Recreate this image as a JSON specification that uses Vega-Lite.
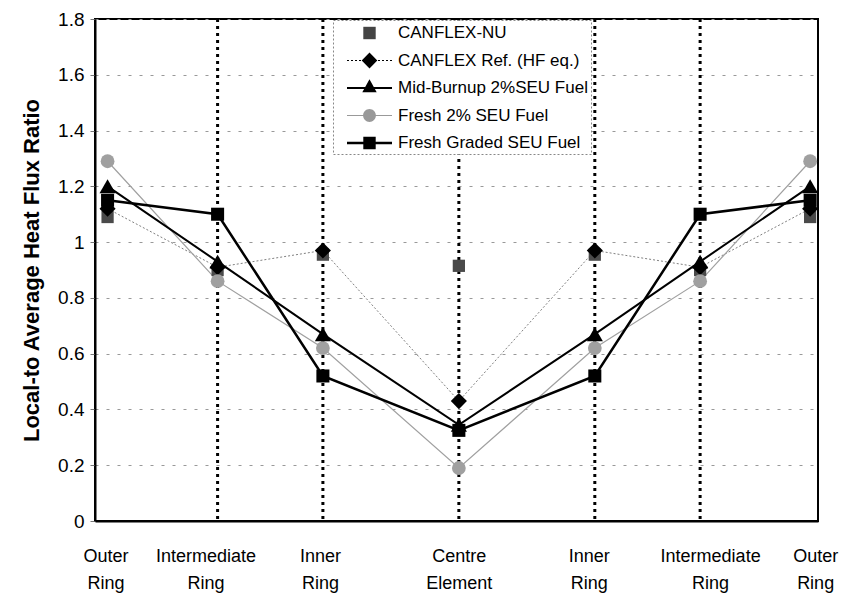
{
  "$schema": "https://vega.github.io/schema/vega-lite/v6.json",
  "width": 723,
  "height": 502,
  "autosize": {"type": "none"},
  "padding": {"left": 95, "top": 19, "right": 26, "bottom": 77},
  "background": "white",
  "config": {
    "font": "Liberation Sans",
    "view": {"stroke": "black", "strokeWidth": 2},
    "axisX": {
      "domainColor": "black", "domainWidth": 2, "ticks": false, "tickSize": 0, "grid": false,
      "labelFontSize": 18, "labelColor": "black", "labelPadding": 26, "labelLineHeight": 27,
      "labelOverlap": false, "labelBound": false, "labelFlush": false, "labelBaseline": "top"
    },
    "axisY": {
      "domainColor": "black", "domainWidth": 2, "tickColor": "#777", "tickSize": 5,
      "grid": true, "gridColor": "#999", "gridDash": [3, 8], "gridWidth": 1,
      "labelFontSize": 19, "labelColor": "black", "labelPadding": 6,
      "titleFontSize": 22, "titleFontWeight": "bold", "titleColor": "black", "titlePadding": 14
    }
  },
  "datasets": {
    "rings": [{"x": -3.07}, {"x": -1.73}, {"x": 0}, {"x": 1.73}, {"x": 3.07}],
    "flux": [
      {"x": -4.47, "series": "CANFLEX-NU", "value": 1.09},
      {"x": -3.07, "series": "CANFLEX-NU", "value": 0.90},
      {"x": -1.73, "series": "CANFLEX-NU", "value": 0.955},
      {"x": 0, "series": "CANFLEX-NU", "value": 0.915},
      {"x": 1.73, "series": "CANFLEX-NU", "value": 0.955},
      {"x": 3.07, "series": "CANFLEX-NU", "value": 0.90},
      {"x": 4.47, "series": "CANFLEX-NU", "value": 1.09},
      {"x": -4.47, "series": "CANFLEX Ref. (HF eq.)", "value": 1.12},
      {"x": -3.07, "series": "CANFLEX Ref. (HF eq.)", "value": 0.91},
      {"x": -1.73, "series": "CANFLEX Ref. (HF eq.)", "value": 0.97},
      {"x": 0, "series": "CANFLEX Ref. (HF eq.)", "value": 0.43},
      {"x": 1.73, "series": "CANFLEX Ref. (HF eq.)", "value": 0.97},
      {"x": 3.07, "series": "CANFLEX Ref. (HF eq.)", "value": 0.91},
      {"x": 4.47, "series": "CANFLEX Ref. (HF eq.)", "value": 1.12},
      {"x": -4.47, "series": "Mid-Burnup 2%SEU Fuel", "value": 1.20},
      {"x": -3.07, "series": "Mid-Burnup 2%SEU Fuel", "value": 0.93},
      {"x": -1.73, "series": "Mid-Burnup 2%SEU Fuel", "value": 0.67},
      {"x": 0, "series": "Mid-Burnup 2%SEU Fuel", "value": 0.345},
      {"x": 1.73, "series": "Mid-Burnup 2%SEU Fuel", "value": 0.67},
      {"x": 3.07, "series": "Mid-Burnup 2%SEU Fuel", "value": 0.93},
      {"x": 4.47, "series": "Mid-Burnup 2%SEU Fuel", "value": 1.20},
      {"x": -4.47, "series": "Fresh 2% SEU Fuel", "value": 1.29},
      {"x": -3.07, "series": "Fresh 2% SEU Fuel", "value": 0.86},
      {"x": -1.73, "series": "Fresh 2% SEU Fuel", "value": 0.62},
      {"x": 0, "series": "Fresh 2% SEU Fuel", "value": 0.19},
      {"x": 1.73, "series": "Fresh 2% SEU Fuel", "value": 0.62},
      {"x": 3.07, "series": "Fresh 2% SEU Fuel", "value": 0.86},
      {"x": 4.47, "series": "Fresh 2% SEU Fuel", "value": 1.29},
      {"x": -4.47, "series": "Fresh Graded SEU Fuel", "value": 1.15},
      {"x": -3.07, "series": "Fresh Graded SEU Fuel", "value": 1.10},
      {"x": -1.73, "series": "Fresh Graded SEU Fuel", "value": 0.52},
      {"x": 0, "series": "Fresh Graded SEU Fuel", "value": 0.325},
      {"x": 1.73, "series": "Fresh Graded SEU Fuel", "value": 0.52},
      {"x": 3.07, "series": "Fresh Graded SEU Fuel", "value": 1.10},
      {"x": 4.47, "series": "Fresh Graded SEU Fuel", "value": 1.15}
    ]
  },
  "encoding": {
    "x": {
      "field": "x", "type": "quantitative",
      "scale": {"domain": [-4.63, 4.57], "nice": false, "zero": false},
      "axis": {
        "title": null,
        "values": [-4.47, -3.07, -1.73, 0, 1.73, 3.07, 4.47],
        "labelExpr": "datum.value < -4 || datum.value > 4 ? ['Outer', 'Ring'] : (datum.value < -2.5 || datum.value > 2.5) ? ['Intermediate', 'Ring'] : (datum.value < -1 || datum.value > 1) ? ['Inner', 'Ring'] : ['Centre', 'Element']",
        "encoding": {
          "labels": {
            "dx": {"value": {"expr": "datum.value < -4 ? -2 : datum.value < -2.5 ? -12 : datum.value < -1 ? -3 : datum.value > 4 ? 5 : datum.value > 2.5 ? 10 : datum.value > 1 ? -6 : 0"}}
          }
        }
      }
    }
  },
  "layer": [
    {
      "data": {"name": "rings"},
      "mark": {"type": "rule", "color": "black", "strokeWidth": 3, "strokeDash": [3, 4]}
    },
    {
      "data": {"name": "flux"},
      "transform": [{"filter": "datum.series === 'CANFLEX Ref. (HF eq.)'"}],
      "mark": {"type": "line", "color": "#808080", "strokeWidth": 1, "strokeDash": [2, 2]},
      "encoding": {"y": {"field": "value", "type": "quantitative", "scale": {"domain": [0, 1.8], "nice": false}}}
    },
    {
      "data": {"name": "flux"},
      "transform": [{"filter": "datum.series === 'Fresh 2% SEU Fuel'"}],
      "mark": {"type": "line", "color": "#a0a0a0", "strokeWidth": 1.2},
      "encoding": {"y": {"field": "value", "type": "quantitative"}}
    },
    {
      "data": {"name": "flux"},
      "transform": [{"filter": "datum.series === 'Mid-Burnup 2%SEU Fuel'"}],
      "mark": {"type": "line", "color": "black", "strokeWidth": 2},
      "encoding": {"y": {"field": "value", "type": "quantitative"}}
    },
    {
      "data": {"name": "flux"},
      "transform": [{"filter": "datum.series === 'Fresh Graded SEU Fuel'"}],
      "mark": {"type": "line", "color": "black", "strokeWidth": 2.5},
      "encoding": {"y": {"field": "value", "type": "quantitative"}}
    },
    {
      "data": {"name": "flux"},
      "transform": [{"filter": "datum.series === 'CANFLEX-NU'"}],
      "mark": {"type": "point", "shape": "square", "filled": true, "color": "#4a4a4a", "size": 150},
      "encoding": {
        "y": {
          "field": "value", "type": "quantitative",
          "axis": {
            "title": "Local-to Average Heat Flux Ratio",
            "values": [0, 0.2, 0.4, 0.6, 0.8, 1, 1.2, 1.4, 1.6, 1.8],
            "format": "~g"
          }
        },
        "opacity": {
          "field": "series", "type": "ordinal",
          "scale": {
            "domain": ["CANFLEX-NU", "CANFLEX Ref. (HF eq.)", "Mid-Burnup 2%SEU Fuel", "Fresh 2% SEU Fuel", "Fresh Graded SEU Fuel"],
            "range": [1, 1, 1, 1, 1]
          },
          "legend": {
            "orient": "none", "legendX": 238, "legendY": 1, "title": null,
            "padding": 3, "rowPadding": 9.5, "symbolSize": 400, "symbolStrokeWidth": 0, "symbolOffset": 23.5,
            "labelOffset": 18.5, "labelFontSize": 17, "labelColor": "black", "labelLimit": 300,
            "fillColor": "white", "strokeColor": "#888",
            "encoding": {
              "legend": {"strokeDash": {"value": [2, 2]}},
              "symbols": {
                "size": {"value": 400},
                "stroke": {"value": "transparent"},
                "fill": {"value": {"expr": "datum.value === 'CANFLEX-NU' ? '#444' : datum.value === 'Fresh 2% SEU Fuel' ? '#999' : 'black'"}},
                "shape": {"value": {"expr": "datum.value === 'CANFLEX-NU' ? 'M-0.62,-0.62H0.62V0.62H-0.62Z' : datum.value === 'CANFLEX Ref. (HF eq.)' ? 'M-2.25,-0.05h0.2v0.1h-0.2Z M-1.85,-0.05h0.2v0.1h-0.2Z M-1.45,-0.05h0.2v0.1h-0.2Z M-1.05,-0.05h0.2v0.1h-0.2Z M0.85,-0.05h0.2v0.1h-0.2Z M1.25,-0.05h0.2v0.1h-0.2Z M1.65,-0.05h0.2v0.1h-0.2Z M2.05,-0.05h0.2v0.1h-0.2Z M0,-0.8L0.78,0L0,0.8L-0.78,0Z' : datum.value === 'Mid-Burnup 2%SEU Fuel' ? 'M-2.25,-0.1H2.25V0.1H-2.25Z M0,-0.88L0.72,0.42L-0.72,0.42Z' : datum.value === 'Fresh 2% SEU Fuel' ? 'M-2.25,-0.05H2.25V0.05H-2.25Z M0.64,0A0.64,0.64 0 1,1 -0.64,0A0.64,0.64 0 1,1 0.64,0Z' : 'M-2.25,-0.12H2.25V0.12H-2.25Z M-0.62,-0.62H0.62V0.62H-0.62Z'"}}
              }
            }
          }
        }
      }
    },
    {
      "data": {"name": "flux"},
      "transform": [{"filter": "datum.series === 'CANFLEX Ref. (HF eq.)'"}],
      "mark": {"type": "point", "shape": "diamond", "filled": true, "opacity": 1, "color": "black", "size": 260},
      "encoding": {"y": {"field": "value", "type": "quantitative"}}
    },
    {
      "data": {"name": "flux"},
      "transform": [{"filter": "datum.series === 'Mid-Burnup 2%SEU Fuel'"}],
      "mark": {"type": "point", "shape": "triangle-up", "filled": true, "opacity": 1, "color": "black", "size": 260},
      "encoding": {"y": {"field": "value", "type": "quantitative"}}
    },
    {
      "data": {"name": "flux"},
      "transform": [{"filter": "datum.series === 'Fresh 2% SEU Fuel'"}],
      "mark": {"type": "point", "shape": "circle", "filled": true, "opacity": 1, "color": "#a0a0a0", "size": 190},
      "encoding": {"y": {"field": "value", "type": "quantitative"}}
    },
    {
      "data": {"name": "flux"},
      "transform": [{"filter": "datum.series === 'Fresh Graded SEU Fuel'"}],
      "mark": {"type": "point", "shape": "square", "filled": true, "opacity": 1, "color": "black", "size": 170},
      "encoding": {"y": {"field": "value", "type": "quantitative"}}
    }
  ]
}
